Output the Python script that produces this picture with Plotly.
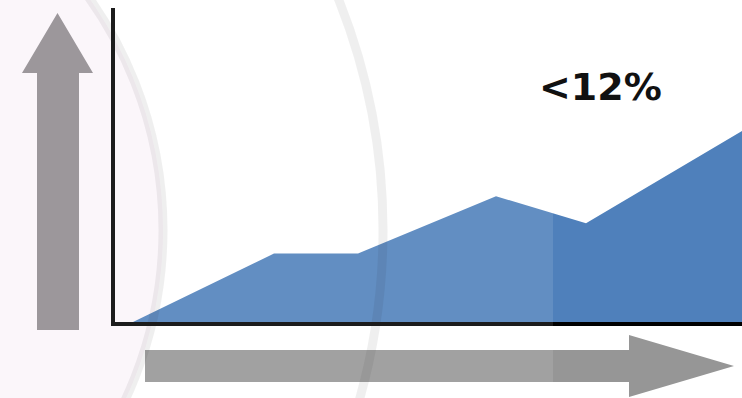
import plotly.graph_objects as go

# Growth curve: period index and level (%)
periods = [0.6, 5.3, 8.1, 12.7, 15.7, 20.9]
levels = [0.0, 4.3, 4.3, 7.9, 6.2, 12.0]
label_text = "&lt;12%"

W, H = 742, 398
L, R, T, B = 115, 742, 8, 322
X_RANGE = [0, (R - L) / 30.0]
Y_RANGE = [0, (B - T) / 15.92]


def fx(px):
    return (px - L) / (R - L)


def fy(py):
    return (B - py) / (B - T)


def path(points):
    return "M " + " L ".join(f"{fx(x):.5f},{fy(y):.5f}" for x, y in points) + " Z"


fig = go.Figure()
fig.add_trace(go.Scatter(
    x=periods, y=levels, mode="lines", fill="tozeroy",
    line=dict(width=0, color="#4f80bb"), fillcolor="#4f80bb",
    hoverinfo="skip", showlegend=False,
))

shapes = []
# faint tinted disc of the seal in the background
cx, cy = -238, 230
r_in, r_out = 401, 621
shapes.append(dict(type="circle", xref="paper", yref="paper", layer="below",
                   x0=fx(cx - r_in), x1=fx(cx + r_in), y0=fy(cy + r_in), y1=fy(cy - r_in),
                   fillcolor="rgba(246,232,244,0.45)", line=dict(width=0)))
# vertical arrow
shapes.append(dict(type="path", xref="paper", yref="paper", layer="above",
                   path=path([(37, 330), (37, 73), (22, 73), (57.5, 13), (93, 73), (79, 73), (79, 330)]),
                   fillcolor="#908b8f", line=dict(width=0)))
# horizontal arrow
shapes.append(dict(type="path", xref="paper", yref="paper", layer="above",
                   path=path([(145, 350), (629, 350), (629, 335), (734, 366), (629, 397), (629, 382), (145, 382)]),
                   fillcolor="#969696", line=dict(width=0)))
# seal rings
for r in (r_in, r_out):
    shapes.append(dict(type="circle", xref="paper", yref="paper", layer="above",
                       x0=fx(cx - r), x1=fx(cx + r), y0=fy(cy + r), y1=fy(cy - r),
                       fillcolor="rgba(0,0,0,0)", line=dict(width=9, color="rgba(0,0,0,0.068)")))
# light veil over the left part
shapes.append(dict(type="rect", xref="paper", yref="paper", layer="above",
                   x0=fx(-10), x1=fx(553), y0=fy(410), y1=fy(-10),
                   fillcolor="rgba(255,255,255,0.11)", line=dict(width=0)))

fig.update_layout(
    width=W, height=H,
    margin=dict(l=L, r=W - R, t=T, b=H - B, pad=0),
    paper_bgcolor="white", plot_bgcolor="rgba(0,0,0,0)",
    shapes=shapes,
    xaxis=dict(range=X_RANGE, showgrid=False, zeroline=False, showticklabels=False,
               ticks="", showline=True, linecolor="black", linewidth=3.5, fixedrange=True),
    yaxis=dict(range=Y_RANGE, showgrid=False, zeroline=False, showticklabels=False,
               ticks="", showline=True, linecolor="black", linewidth=4, fixedrange=True),
    annotations=[dict(x=(600 - L) / 30.0, y=(B - 87) / 15.92, xref="x", yref="y",
                      text=label_text, showarrow=False,
                      font=dict(family="DejaVu Sans", size=38, color="#111111", weight="bold"))],
)

fig.write_html("out.html", config=dict(displayModeBar=False))
